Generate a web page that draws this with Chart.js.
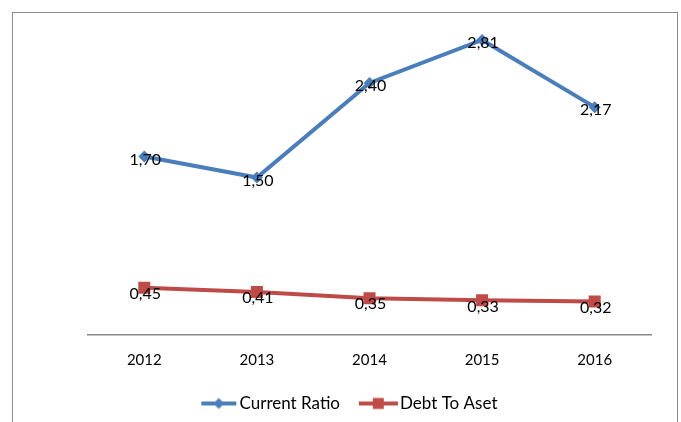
<!DOCTYPE html>
<html>
<head>
<meta charset="utf-8">
<script src="https://cdn.jsdelivr.net/npm/chart.js@4/dist/chart.umd.min.js"></script>
<style>
  html, body { margin: 0; padding: 0; background: #ffffff; }
  #wrap { position: relative; width: 681px; height: 422px; overflow: hidden; }
  #frame { position: absolute; left: 12px; top: 12px; width: 666px; height: 480px;
           border: 1px solid #8c8c8c; box-sizing: border-box; pointer-events: none; }
  canvas { position: absolute; left: 0; top: 0; }
</style>
</head>
<body>
<div id="wrap">
  <div id="frame"></div>
  <canvas id="c" width="681" height="422"></canvas>
</div>
<script>
// Ratios per year
const years = ['2012', '2013', '2014', '2015', '2016'];
const currentRatio = [1.70, 1.50, 2.40, 2.81, 2.17];
const debtToAset = [0.45, 0.41, 0.35, 0.33, 0.32];
const seriesNames = ['Current Ratio', 'Debt To Aset'];

const BLUE = '#4a7ebb';
const RED = '#be4b48';
const FONT = 'Lato, "Open Sans", sans-serif';

// Legend swatch: a short line with the series marker in the middle.
// The image is drawn centred on the legend box, so the line sits in its right part.
function swatch(color, shape, x0, x1) {
  const cv = document.createElement('canvas');
  cv.width = 54; cv.height = 14;
  const g = cv.getContext('2d');
  g.strokeStyle = color; g.lineWidth = 4;
  g.beginPath(); g.moveTo(x0, 7); g.lineTo(x1, 7); g.stroke();
  const m = (x0 + x1) / 2;
  g.fillStyle = color;
  g.beginPath();
  if (shape === 'diamond') {
    g.moveTo(m, 1.5); g.lineTo(m + 5.5, 7); g.lineTo(m, 12.5); g.lineTo(m - 5.5, 7);
  } else {
    g.rect(m - 5.5, 1.5, 11, 11);
  }
  g.closePath(); g.fill();
  return cv;
}
const swatches = [swatch(BLUE, 'diamond', 18, 53), swatch(RED, 'square', 15, 54)];

// Values written over each point, decimal comma
const valueLabels = {
  id: 'valueLabels',
  afterDatasetsDraw(chart) {
    const ctx = chart.ctx;
    ctx.save();
    ctx.font = '16px ' + FONT;
    ctx.fillStyle = '#000000';
    ctx.textAlign = 'center';
    ctx.textBaseline = 'middle';
    chart.data.datasets.forEach((ds, i) => {
      const meta = chart.getDatasetMeta(i);
      const dy = i === 0 ? 3 : 6;
      meta.data.forEach((pt, j) => {
        const txt = ds.data[j].toFixed(2).replace('.', ',');
        ctx.fillText(txt, pt.x + 1, pt.y + dy);
      });
    });
    ctx.restore();
  }
};

const hiddenAxis = (width, position) => ({
  type: 'linear',
  position: position,
  display: true,
  min: 0,
  max: 3,
  grid: { display: false, drawTicks: false },
  border: { display: false },
  ticks: { display: false },
  afterFit(scale) { scale.width = width; }
});

new Chart(document.getElementById('c'), {
  type: 'line',
  data: {
    labels: years,
    datasets: [
      {
        label: seriesNames[0],
        data: currentRatio,
        borderColor: BLUE,
        backgroundColor: BLUE,
        borderWidth: 4,
        tension: 0,
        pointStyle: 'rectRot',
        pointRadius: 6,
        pointBorderWidth: 0,
        pointBackgroundColor: BLUE
      },
      {
        label: seriesNames[1],
        data: debtToAset,
        borderColor: RED,
        backgroundColor: RED,
        borderWidth: 4,
        tension: 0,
        pointStyle: 'rect',
        pointRadius: 8.5,
        pointBorderWidth: 0,
        pointBackgroundColor: RED
      }
    ]
  },
  options: {
    responsive: false,
    animation: false,
    events: [],
    layout: { padding: { left: 8, right: 2, top: 20, bottom: 0 } },
    scales: {
      x: {
        offset: true,
        grid: { display: false, drawTicks: false },
        border: { display: true, color: '#8a8a8a', width: 1.5 },
        ticks: { color: '#000000', font: { family: FONT, size: 15 }, padding: 16 },
        afterFit(scale) { scale.height = 50; }
      },
      y: hiddenAxis(80, 'left'),
      y2: hiddenAxis(28, 'right')
    },
    plugins: {
      tooltip: { enabled: false },
      legend: {
        position: 'bottom',
        labels: {
          color: '#000000',
          font: { family: FONT, size: 17 },
          usePointStyle: true,
          pointStyleWidth: 41.5,
          padding: 10,
          generateLabels(chart) {
            return chart.data.datasets.map((ds, i) => ({
              text: ds.label,
              pointStyle: swatches[i],
              fillStyle: ds.borderColor,
              strokeStyle: ds.borderColor,
              lineWidth: 0,
              hidden: false,
              datasetIndex: i
            }));
          }
        }
      }
    }
  },
  plugins: [valueLabels]
});
</script>
</body>
</html>
